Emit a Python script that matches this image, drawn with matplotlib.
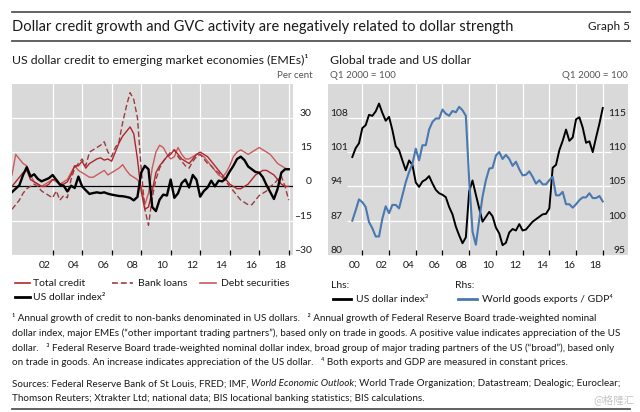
import matplotlib
matplotlib.use('agg')
import matplotlib.pyplot as plt
from matplotlib.lines import Line2D
import pandas as pd

plt.rcParams['font.family'] = ['Lato', 'DejaVu Sans']

W, H = 640, 412

# quarterly observations, 2000Q1 .. 2018Q4 (plotted at end of quarter)
quarters = pd.period_range('2000Q1', '2018Q4', freq='Q')
t = quarters.year + quarters.quarter / 4.0

# left panel: annual growth, per cent
total_credit = [
    0, 2, 4, 6, 7, 3, 2, 1, 0, 0,
    1, 3, 3, 1, 1, 2, 5, 9, 9, 11,
    8, 10, 11, 12, 12.5, 11.5, 12, 11, 15, 19,
    22, 24, 26, 23, 12, -2, -10, -9, -2, 6,
    9, 11, 13, 14, 16, 14, 12, 11, 10, 12,
    14, 15, 14, 13, 11, 9, 7, 5, 3, 1,
    0, -1, -1, 0, 1, 3, 5, 6, 7, 7,
    6, 5, 3, 1, 0, 0]
bank_loans = [
    -10, -8, -6, -3, -1, 0, 1, 0, -2, -3,
    -4, -5, -2, -6, -4, -5, 3, 8, 10, 12,
    9, 15, 16, 17, 18, 19.5, 15, 13, 17, 19.5,
    28, 35, 41, 38, 30, 8, -10, -17, -5, 3,
    8, 11, 13, 15, 16, 13, 11, 9, 8, 11,
    13, 14, 12, 10, 9, 7, 6, 4, 2, 0,
    -2, -4, -6, -7, -8, -8, -6, -4, -3, -2,
    0, 1, 3, 4.5, 0, -6]
debt_securities = [
    5, 14, 12, 10, 9, 5, 2, 1, 0, 1,
    2, 3, 2, 1, 2, 3, 6, 9, 7, 6,
    5, 4, 4, 5, 6, 7, 5, 6, 7, 8,
    9.5, 7, 5, 4, 3, 0, -8, -3, 8, 15,
    18, 17, 14, 12, 13, 17, 14, 12, 12, 13,
    14, 14, 13, 11, 9, 7, 5, 4, 6, 9,
    13, 15, 16, 15, 14, 15, 16, 17, 16, 15,
    14, 12, 10, 9, 8, 7.5]
usd_growth = [
    -2.5, -1.0, 0.5, 5.0, 8.4, 4.3, 5.3, 3.3, 2.2, 2.9,
    3.6, 5.0, 2.9, 0.7, 0.3, -2.2, 0.3, -0.7, 4.3, 0.0,
    -1.7, -3.3, -2.9, -2.6, -2.9, -2.6, -3.2, -3.6, -3.9, -4.2,
    -4.3, -4.6, -5.0, -6.1, -4.6, 6.0, 9.0, 7.5, -9.0, -10.8,
    -5.8, -3.6, -4.0, 3.0, -5.0, -3.0, 1.5, 3.0, -0.5, 5.0,
    2.9, -4.5, -2.0, -0.5, 2.5, 0.0, 2.5, 2.2, 3.6, 6.5,
    9.0, 12.0, 13.0, 11.5, 8.7, 7.5, 6.3, 6.0, 4.0, 0.5,
    -2.5, -5.5, -1.0, 6.0, 7.5, 7.5]

# right panel: Q1 2000 = 100
usd_level = [
    100.0, 101.8, 102.8, 105.9, 106.5, 108.6, 108.4, 109.3, 110.9, 109.0,
    107.4, 108.2, 105.5, 102.2, 101.4, 99.3, 97.3, 99.3, 98.4, 94.8,
    93.9, 95.0, 95.4, 96.1, 94.6, 93.3, 92.6, 92.3, 91.8, 89.8,
    88.3, 85.8, 84.0, 82.4, 83.6, 93.0, 95.2, 92.3, 89.5, 86.8,
    87.8, 88.8, 87.9, 85.6, 84.4, 82.0, 82.5, 84.6, 85.3, 85.0,
    86.3, 85.0, 85.2, 86.0, 86.8, 87.3, 87.8, 88.3, 88.4, 89.5,
    97.8, 98.4, 101.4, 103.3, 105.6, 103.3, 104.0, 107.7, 108.1, 106.0,
    102.9, 103.2, 101.0, 104.0, 106.8, 110.0]
exports_gdp = [
    100.0, 101.5, 103.1, 102.7, 102.0, 99.8, 98.9, 97.7, 97.7, 100.3,
    102.1, 101.1, 102.3, 102.3, 101.8, 103.7, 105.6, 107.1, 108.3, 110.5,
    108.8, 111.0, 111.0, 113.3, 114.4, 114.9, 114.9, 116.2, 115.6, 115.3,
    116.0, 115.8, 116.6, 116.1, 115.3, 105.9, 98.4, 96.5, 100.1, 103.5,
    105.9, 107.6, 107.7, 109.5, 110.0, 109.0, 109.6, 109.0, 108.0, 108.6,
    107.5, 106.6, 106.7, 107.2, 106.4, 105.4, 105.9, 105.3, 105.3, 105.9,
    106.4, 103.7, 103.7, 104.2, 102.4, 102.4, 101.9, 102.4, 103.0, 103.4,
    103.4, 104.0, 103.3, 103.3, 103.6, 102.8]

left_years = [2002, 2004, 2006, 2008, 2010, 2012, 2014, 2016, 2018]
left_xlabels = ['02', '04', '06', '08', '10', '12', '14', '16', '18']
right_years = [2000, 2002, 2004, 2006, 2008, 2010, 2012, 2014, 2016, 2018]
right_xlabels = ['00', '02', '04', '06', '08', '10', '12', '14', '16', '18']
left_yticks = [-30, -15, 0, 15, 30]
left_ylabels = ['–30', '–15', '0', '15', '30']
lhs_yticks = [80, 87, 94, 101, 108]
rhs_yticks = [95, 100, 105, 110, 115]

GRAY_BG = '#d9d9d9'
RED_TC = '#b0262c'
RED_BL = '#9a3c40'
RED_DS = '#cc5a5a'
BLUE = '#4a78b0'
TXT = '#1a1a1a'


def px_axes(fig, x0, y0, x1, y1):
    return fig.add_axes([x0 / W, 1 - y1 / H, (x1 - x0) / W, (y1 - y0) / H])


def ftext(fig, x, y, s, **kw):
    kw.setdefault('va', 'center')
    kw.setdefault('color', TXT)
    return fig.text(x / W, 1 - y / H, s, **kw)


def fline(fig, x0, x1, y, **kw):
    fig.add_artist(Line2D([x0 / W, x1 / W], [1 - y / H, 1 - y / H],
                          transform=fig.transFigure, **kw))


def seq_text(fig, x, y, parts, **kw):
    # draw text pieces one after another (for the italic title in sources)
    r = fig.canvas.get_renderer()
    for s, style in parts:
        txt = ftext(fig, x, y, s, style=style, **kw)
        x += txt.get_window_extent(r).width


def style_axes(ax):
    ax.set_facecolor(GRAY_BG)
    for s in ax.spines.values():
        s.set_visible(False)
    ax.set_axisbelow(True)


fig = plt.figure(figsize=(W / 100, H / 100), dpi=100)

# header
fline(fig, 12, 630, 12, color='#555555', lw=1.3)
fline(fig, 12, 630, 41, color='#555555', lw=1.3)
ftext(fig, 12, 26.5, 'Dollar credit growth and GVC activity are negatively related to dollar strength',
      fontsize=10.5)
ftext(fig, 630, 27, 'Graph 5', fontsize=8.5, ha='right')

# ---- left panel
ax1 = px_axes(fig, 12, 83.5, 293, 255)
style_axes(ax1)
ax1.set_xlim(2000.25, 2019.29)
ax1.set_ylim(-30, 45)
bounds = [y + 1 for y in left_years]
ax1.set_xticks([y + 0.45 for y in left_years])
ax1.set_xticklabels(left_xlabels)
ax1.set_xticks(bounds, minor=True)
ax1.tick_params(axis='x', which='major', length=0, pad=4.5, labelsize=7.5, labelcolor=TXT)
ax1.tick_params(axis='x', which='minor', direction='in', length=3.5, width=0.9, color='black')
ax1.grid(axis='x', which='minor', color='white', lw=0.9)
ax1.yaxis.tick_right()
ax1.set_yticks(left_yticks)
ax1.set_yticklabels(left_ylabels)
ax1.tick_params(axis='y', length=0, pad=13.5, labelsize=7.5, labelcolor=TXT)
for lbl in ax1.get_yticklabels():
    lbl.set_ha('right')
    lbl.set_va('bottom')
ax1.grid(axis='y', which='major', color='white', lw=0.9)
ax1.axhline(0, color='black', lw=0.9, zorder=1)

ax1.plot(t, debt_securities, color=RED_DS, lw=1.0, zorder=2)
ax1.plot(t, bank_loans, color=RED_BL, lw=1.0, dashes=(4, 2), zorder=2)
ax1.plot(t, total_credit, color=RED_TC, lw=1.0, zorder=2)
ax1.plot(t, usd_growth, color='black', lw=1.7, zorder=3)

ftext(fig, 12, 60, 'US dollar credit to emerging market economies (EMEs)\u00b9', fontsize=8.8)
ftext(fig, 313, 75.5, 'Per cent', fontsize=7, ha='right', color='#555555')

# ---- right panel
ax2 = px_axes(fig, 328, 83.5, 628, 255)
style_axes(ax2)
ax2.set_xlim(1998.43, 2020.89)
ax2.set_ylim(80, 115)
ax2.set_xticks([y + 0.45 for y in right_years])
ax2.set_xticklabels(right_xlabels)
ax2.set_xticks([y + 1 for y in right_years], minor=True)
ax2.tick_params(axis='x', which='major', length=0, pad=4.5, labelsize=7.5, labelcolor=TXT)
ax2.tick_params(axis='x', which='minor', direction='in', length=3.5, width=0.9, color='black')
ax2.grid(axis='x', which='minor', color='white', lw=0.9)
ax2.hlines(lhs_yticks[1:], 1999.85, 2019.65, color='white', lw=0.9, zorder=0.5)
ax2.set_yticks(lhs_yticks)
ax2.tick_params(axis='y', length=0, pad=-1.5, labelsize=7.5, labelcolor=TXT)
for lbl in ax2.get_yticklabels():
    lbl.set_ha('left')
    lbl.set_va('bottom')

ax2.plot(t, usd_level, color='black', lw=1.4, zorder=3)

ax2r = ax2.twinx()
for s in ax2r.spines.values():
    s.set_visible(False)
ax2r.set_ylim(95, 120)
ax2r.set_yticks(rhs_yticks)
ax2r.tick_params(axis='y', length=0, pad=-1.5, labelsize=7.5, labelcolor=TXT)
for lbl in ax2r.get_yticklabels():
    lbl.set_ha('right')
    lbl.set_va('bottom')
ax2r.plot(t, exports_gdp, color=BLUE, lw=1.5, zorder=3)

ftext(fig, 330, 60, 'Global trade and US dollar', fontsize=8.8)
ftext(fig, 330, 75.5, 'Q1 2000 = 100', fontsize=7, color='#555555')
ftext(fig, 628, 75.5, 'Q1 2000 = 100', fontsize=7, ha='right', color='#555555')

# ---- legends
LEG = 7.5
fline(fig, 14.5, 30, 283, color=RED_TC, lw=1.2)
ftext(fig, 33, 283, 'Total credit', fontsize=LEG)
fline(fig, 112, 133, 283, color=RED_BL, lw=1.2, dashes=(3.5, 1.8))
ftext(fig, 138, 283, 'Bank loans', fontsize=LEG)
fline(fig, 200, 216, 283, color=RED_DS, lw=1.2)
ftext(fig, 221, 283, 'Debt securities', fontsize=LEG)
fline(fig, 14.5, 30, 297, color='black', lw=2.0)
ftext(fig, 33, 297, 'US dollar index\u00b2', fontsize=LEG)

ftext(fig, 331, 285, 'Lhs:', fontsize=LEG)
ftext(fig, 455, 285, 'Rhs:', fontsize=LEG)
fline(fig, 333, 351, 299, color='black', lw=2.0)
ftext(fig, 356, 299, 'US dollar index\u00b3', fontsize=LEG)
fline(fig, 458, 477, 299, color=BLUE, lw=2.0)
ftext(fig, 482, 299, 'World goods exports / GDP\u2074', fontsize=LEG)

# ---- footnotes and sources
FN = 7.15
notes = [
    '\u00b9 Annual growth of credit to non-banks denominated in US dollars.   \u00b2 Annual growth of Federal Reserve Board trade-weighted nominal',
    'dollar index, major EMEs (\u201cother important trading partners\u201d), based only on trade in goods. A positive value indicates appreciation of the US',
    'dollar.   \u00b3 Federal Reserve Board trade-weighted nominal dollar index, broad group of major trading partners of the US (\u201cbroad\u201d), based only',
    'on trade in goods. An increase indicates appreciation of the US dollar.   \u2074 Both exports and GDP are measured in constant prices.',
]
for k, line in enumerate(notes):
    ftext(fig, 12, 318 + 14.8 * k, line, fontsize=FN)

seq_text(fig, 12, 384, [
    ('Sources: Federal Reserve Bank of St Louis, FRED; IMF, ', 'normal'),
    ('World Economic Outlook', 'italic'),
    ('; World Trade Organization; Datastream; Dealogic; Euroclear;', 'normal'),
], fontsize=FN)
ftext(fig, 12, 398.5, 'Thomson Reuters; Xtrakter Ltd; national data; BIS locational banking statistics; BIS calculations.',
      fontsize=FN)

fline(fig, 12, 630, 408.5, color='#555555', lw=1.3)
ftext(fig, 634, 400, '@格隆汇', fontsize=7.5, ha='right', color='#c4c4c4',
      family=['Noto Sans CJK SC', 'DejaVu Sans'])

fig.savefig('out.png', dpi=100)
